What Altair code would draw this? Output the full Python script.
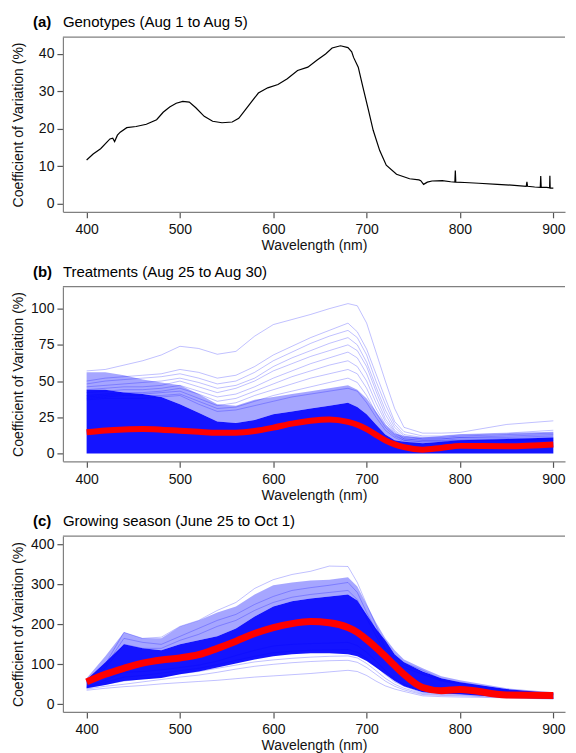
import altair as alt
import pandas as pd

# ---------------- Panel (a): genotypes ----------------
a_wl = [400, 407, 415, 425, 428, 430, 433, 436, 443, 453, 464, 475, 482, 489, 496, 503, 510,
        517, 526, 535, 545, 556, 563, 570, 577, 584, 594, 605, 615, 626, 637, 647, 656, 663,
        672, 680, 684, 686, 691, 696, 702, 707, 714, 721, 732, 746, 756, 758, 761, 765, 770,
        781, 790, 794.5, 795, 795.5, 805, 820, 840, 855, 871, 871.7, 872.4, 880, 886, 886.5,
        887, 893, 896, 896.3, 896.6, 900]
a_cv = [11.7, 13.3, 14.7, 17.3, 17.5, 16.6, 18.3, 19.1, 20.3, 20.6, 21.2, 22.4, 24.4, 25.8,
        26.8, 27.3, 27.1, 25.6, 23.3, 22.0, 21.6, 21.8, 22.8, 25.0, 27.3, 29.5, 30.9, 31.8,
        33.3, 35.5, 36.4, 38.3, 39.9, 41.5, 42.1, 41.6, 40.5, 39.0, 36.4, 31.1, 24.9, 19.6,
        14.2, 10.3, 7.9, 6.7, 6.4, 6.2, 5.2, 5.8, 6.1, 6.2, 5.9, 5.8, 8.9, 5.8, 5.7, 5.5, 5.2,
        5.0, 4.7, 5.9, 4.7, 4.5, 4.4, 7.4, 4.4, 4.4, 4.3, 7.5, 4.2, 4.2]

# ---------------- shared wavelength grid for (b) and (c) ----------------
grid_wl = [400, 420, 440, 460, 480, 500, 520, 540, 560, 580, 600, 620, 640, 660, 680, 690,
           700, 710, 720, 730, 740, 760, 780, 800, 850, 900]

# ---------------- Panel (b): treatments ----------------
b_mean = [14.6, 15.8, 16.5, 16.8, 16.4, 15.7, 14.9, 14.2, 14.3, 15.5, 17.8, 20.6, 22.6, 23.5,
          21.8, 19.8, 16.8, 12.8, 9.0, 6.2, 4.3, 2.6, 3.8, 5.2, 4.9, 6.2]
b_core_top = [44, 44, 42, 41, 39, 34, 28, 22, 21, 23, 27, 29, 31, 33, 35, 32, 27, 20, 13, 9, 8,
              7, 8, 9, 10, 11]
b_band_top = [56, 56, 54, 51, 49, 47, 41, 34, 33, 37, 39, 41, 43, 45, 47, 44, 38, 29, 20, 14,
              12, 11, 12, 13, 14, 15]
b1 = [57, 58, 61, 64, 68, 74, 72.5, 68.5, 70.5, 81, 89, 92.5, 96, 100, 103.5, 102, 90, 70, 50,
      31, 18, 14, 14, 14.5, 20, 22.5]
b2 = [50, 52, 53, 54, 55, 58, 56, 52, 54, 60, 68, 74, 80, 85, 90, 84, 72, 55, 38, 22, 15, 12,
      12, 13, 14, 16]
b3 = [48, 50, 51, 52, 53, 55, 52, 48, 50, 56, 64, 70, 76, 81, 85, 80, 68, 50, 34, 20, 13, 11,
      11, 12, 13, 14]
b4 = [46, 47, 48, 49, 50, 52, 49, 45, 47, 52, 60, 66, 71, 76, 80, 75, 63, 46, 30, 18, 12, 10,
      10, 11, 12, 13]
b5 = [44, 45, 46, 46, 47, 50, 46, 42, 45, 50, 57, 62, 67, 71, 75, 71, 60, 43, 27, 16, 11, 10,
      10, 11, 11, 12]
b6 = [42, 43, 44, 44, 45, 47, 43, 39, 41, 46, 52, 57, 62, 66, 70, 66, 55, 39, 24, 15, 10, 9,
      9, 10, 10, 11]
b7 = [40, 41, 42, 42, 43, 45, 41, 36, 38, 43, 48, 53, 57, 61, 64, 60, 50, 35, 22, 14, 10, 9,
      9, 9, 10, 10]
b8 = [39, 40, 41, 41, 42, 43, 38, 33, 35, 40, 44, 48, 52, 55, 58, 55, 45, 31, 20, 13, 9, 8,
      8, 9, 9, 10]
b9 = [38, 39, 40, 40, 40, 41, 36, 31, 32, 36, 40, 43, 46, 49, 52, 49, 40, 28, 18, 12, 9, 8,
      8, 9, 9, 9]
b10 = [37, 38, 38, 38, 39, 40, 34, 29, 30, 33, 36, 39, 41, 43, 45, 43, 35, 25, 16, 11, 8, 7,
       7, 8, 8, 9]

# ---------------- Panel (c): growing season ----------------
c_mean = [56, 75, 90, 103, 111, 116, 124, 140, 158, 177, 192, 202, 207, 204, 192, 180, 162,
          142, 120, 97, 75, 42, 34, 37, 23, 22]
c_core_lo = [40, 48, 58, 62, 66, 75, 82, 92, 102, 112, 120, 125, 128, 128, 125, 120, 108, 92,
             75, 58, 45, 30, 27, 25, 17, 14]
c_core_hi = [62, 105, 150, 140, 135, 150, 160, 170, 190, 220, 245, 258, 265, 270, 275, 260,
             225, 190, 160, 125, 105, 82, 65, 55, 38, 28]
c_band_hi = [65, 120, 180, 165, 165, 195, 210, 230, 245, 275, 298, 305, 310, 312, 318, 295,
             250, 205, 165, 135, 112, 90, 70, 60, 40, 30]
c1 = [60, 100, 180, 165, 168, 195, 210, 235, 255, 290, 312, 325, 333, 346, 345, 305, 250, 198,
      140, 118, 104, 85, 62, 55, 35, 26]
c2 = [58, 95, 165, 155, 150, 170, 190, 210, 225, 250, 270, 285, 292, 298, 305, 280, 230, 185,
      135, 112, 98, 80, 60, 52, 33, 25]
c3 = [55, 90, 150, 140, 140, 160, 175, 195, 210, 235, 255, 268, 275, 280, 285, 262, 215, 172,
      128, 105, 92, 75, 58, 50, 31, 24]
c_low1 = [35, 40, 44, 47, 51, 54, 57, 60, 64, 68, 71, 74, 77, 81, 85, 82, 72, 58, 46, 38, 32,
          21, 19, 18, 16, 13]
c_low2 = [38, 45, 50, 56, 62, 68, 73, 80, 88, 95, 100, 104, 107, 109, 110, 105, 92, 75, 58,
          45, 36, 24, 22, 21, 17, 14]
c_low3 = [40, 50, 58, 64, 70, 76, 82, 90, 98, 106, 111, 115, 118, 120, 121, 116, 102, 84, 65,
          50, 40, 26, 24, 23, 18, 15]
c_low4 = [42, 55, 68, 72, 78, 84, 90, 99, 110, 120, 129, 133, 135, 136, 137, 130, 115, 95, 74,
          56, 45, 28, 26, 25, 19, 15]
c_low5 = [44, 60, 80, 82, 86, 92, 98, 108, 122, 135, 146, 150, 152, 153, 155, 147, 130, 108,
          84, 63, 50, 32, 28, 27, 20, 16]

titles = {
    "a": ("(a)", "Genotypes (Aug 1 to Aug 5)"),
    "b": ("(b)", "Treatments (Aug 25 to Aug 30)"),
    "c": ("(c)", "Growing season (June 25 to Oct 1)"),
}

FONT = "Liberation Sans"
W = 503
H = 175
XDOM = [374.6, 912.5]
BOX = "#808080"
XAXIS = alt.Axis(values=[400, 500, 600, 700, 800, 900], title="Wavelength (nm)",
                 tickSize=6, labelPadding=5, titlePadding=2, grid=False)


def long_lines(series):
    rows = []
    for name, vals in series.items():
        for w, v in zip(grid_wl, vals):
            rows.append({"wl": w, "cv": v, "id": name})
    return pd.DataFrame(rows)


def xenc():
    return alt.X("wl:Q", scale=alt.Scale(domain=XDOM, nice=False, zero=False), axis=XAXIS)


def ymaker(dom, vals):
    ax = alt.Axis(values=vals, title="Coefficient of Variation (%)", tickSize=6,
                  labelPadding=3, minExtent=33, maxExtent=33, titlePadding=4, grid=False)
    sc = alt.Scale(domain=dom, nice=False, zero=False)

    def y(field):
        return alt.Y(field, scale=sc, axis=ax)
    return y


def decorations(key):
    lab, txt = titles[key]
    t1 = alt.Chart(pd.DataFrame({"t": [lab]})).mark_text(
        font=FONT, fontSize=15, fontWeight="bold", align="left", baseline="middle",
        color="black").encode(text="t:N", x=alt.value(-30), y=alt.value(-15))
    t2 = alt.Chart(pd.DataFrame({"t": [txt]})).mark_text(
        font=FONT, fontSize=15, align="left", baseline="middle",
        color="black").encode(text="t:N", x=alt.value(0), y=alt.value(-15))
    top = alt.Chart(pd.DataFrame({"k": [0]})).mark_rule(color=BOX, strokeWidth=1.2).encode(
        x=alt.value(0), x2=alt.value(W), y=alt.value(0))
    return [top, t1, t2]


# Panel (a)
dfa = pd.DataFrame({"wl": a_wl, "cv": a_cv})
ya = ymaker([-2.1, 44.4], [0, 10, 20, 30, 40])
line_a = alt.Chart(dfa).mark_line(color="black", strokeWidth=1.2).encode(x=xenc(), y=ya("cv:Q"))
pa = alt.layer(line_a, *decorations("a")).properties(width=W, height=H)

# Panel (b)
yb = ymaker([-5.5, 115.2], [0, 25, 50, 75, 100])
dfb_area = pd.DataFrame({"wl": grid_wl, "zero": [0] * len(grid_wl), "core": b_core_top,
                         "band": b_band_top})
area_b1 = alt.Chart(dfb_area).mark_area(color="#0000ff", opacity=0.92).encode(
    x=xenc(), y=yb("zero:Q"), y2="core:Q")
area_b2 = alt.Chart(dfb_area).mark_area(color="#0000ff", opacity=0.35).encode(
    x=xenc(), y=yb("core:Q"), y2="band:Q")
dfb_lines = long_lines({"b1": b1, "b2": b2, "b3": b3, "b4": b4, "b5": b5, "b6": b6,
                        "b7": b7, "b8": b8, "b9": b9, "b10": b10})
lines_b = alt.Chart(dfb_lines).mark_line(color="#0000ff", opacity=0.25, strokeWidth=1).encode(
    x=xenc(), y=yb("cv:Q"), detail="id:N")
dfb_mean = pd.DataFrame({"wl": grid_wl, "cv": b_mean})
mean_b = alt.Chart(dfb_mean).mark_line(color="#ff0000", strokeWidth=6,
                                       interpolate="monotone").encode(x=xenc(), y=yb("cv:Q"))
pb = alt.layer(area_b1, area_b2, lines_b, mean_b, *decorations("b")).properties(
    width=W, height=H)

# Panel (c)
yc = ymaker([-19.2, 420.8], [0, 100, 200, 300, 400])
dfc_area = pd.DataFrame({"wl": grid_wl, "lo": c_core_lo, "hi": c_core_hi, "band": c_band_hi})
area_c1 = alt.Chart(dfc_area).mark_area(color="#0000ff", opacity=0.92).encode(
    x=xenc(), y=yc("lo:Q"), y2="hi:Q")
area_c2 = alt.Chart(dfc_area).mark_area(color="#0000ff", opacity=0.35).encode(
    x=xenc(), y=yc("hi:Q"), y2="band:Q")
dfc_lines = long_lines({"c1": c1, "c2": c2, "c3": c3, "l1": c_low1, "l2": c_low2,
                        "l3": c_low3, "l4": c_low4, "l5": c_low5})
lines_c = alt.Chart(dfc_lines).mark_line(color="#0000ff", opacity=0.25, strokeWidth=1).encode(
    x=xenc(), y=yc("cv:Q"), detail="id:N")
dfc_mean = pd.DataFrame({"wl": grid_wl, "cv": c_mean})
mean_c = alt.Chart(dfc_mean).mark_line(color="#ff0000", strokeWidth=7,
                                       interpolate="monotone").encode(x=xenc(), y=yc("cv:Q"))
pc = alt.layer(area_c1, area_c2, lines_c, mean_c, *decorations("c")).properties(
    width=W, height=176)

chart = alt.vconcat(pa, pb, pc, spacing=12).properties(
    padding={"left": 4, "top": 6.5, "right": 0, "bottom": 0}
).configure_view(stroke=None).configure_axis(
    domainColor=BOX, domainWidth=1.2, tickColor="#555555", tickWidth=1.2,
    labelColor="#111111", titleColor="#111111", labelFont=FONT, titleFont=FONT,
    labelFontSize=14, titleFontSize=14, titleFontWeight="normal"
)

chart.save("out.html", embed_options={"renderer": "svg", "actions": False})
